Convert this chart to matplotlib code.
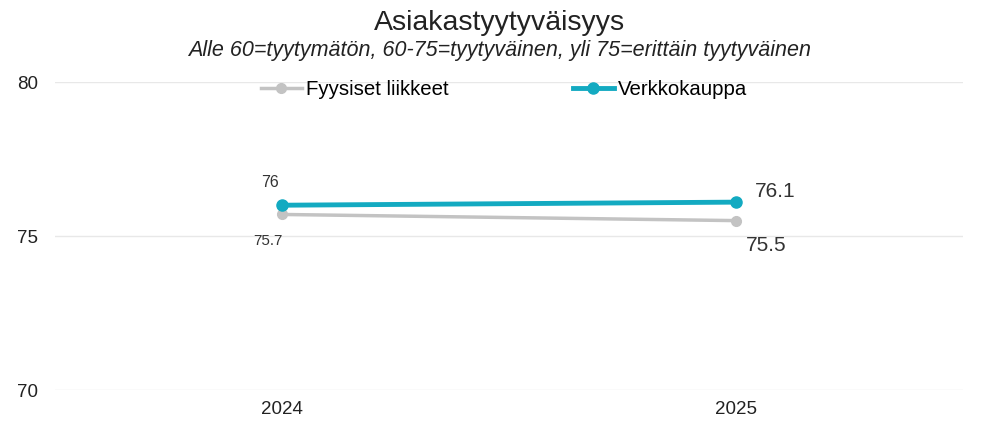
import matplotlib.pyplot as plt

years = ['2024', '2025']
fyysiset = [75.7, 75.5]
verkko = [76.0, 76.1]

plt.rcParams['font.family'] = ['Liberation Sans', 'DejaVu Sans']

fig = plt.figure(figsize=(10, 4.47), dpi=100)
ax = fig.add_axes([0.055, 0.1275, 0.908, 0.689])

x = list(range(len(years)))
gray = '#C3C3C3'
teal = '#13AAC1'
ax.plot(x, fyysiset, color=gray, lw=2.5, marker='o', ms=7, label='Fyysiset liikkeet', zorder=3)
ax.plot(x, verkko, color=teal, lw=3.5, marker='o', ms=8, label='Verkkokauppa', zorder=4)

# value labels
ax.annotate('76', (x[0], verkko[0]), xytext=(-9, 16), textcoords='offset points',
            ha='center', va='center', fontsize=11.5, color='#333333')
ax.annotate('75.7', (x[0], fyysiset[0]), xytext=(-10, -19), textcoords='offset points',
            ha='center', va='center', fontsize=11, color='#333333')
ax.annotate('76.1', (x[1], verkko[1]), xytext=(28, 8), textcoords='offset points',
            ha='center', va='center', fontsize=15, color='#333333')
ax.annotate('75.5', (x[1], fyysiset[1]), xytext=(22, -18), textcoords='offset points',
            ha='center', va='center', fontsize=15, color='#333333')

ax.set_xlim(-0.5, 1.5)
ax.set_ylim(70, 80)
ax.set_yticks([70, 75, 80])
ax.set_xticks(x)
ax.set_xticklabels(years)
ax.tick_params(length=0, labelsize=13.5, colors='#222222')
ax.tick_params(axis='y', pad=12)
ax.tick_params(axis='x', pad=8)
ax.grid(axis='y', color='#E8E8E8', lw=1)
ax.set_axisbelow(True)
for s in ax.spines.values():
    s.set_visible(False)

ax.legend(loc='upper center', bbox_to_anchor=(0.4945, 1.065), ncol=2, frameon=False,
          fontsize=14.7, columnspacing=6.1, handlelength=2.0, handletextpad=0.2)

fig.text(0.5, 0.948, 'Asiakastyytyväisyys', ha='center', va='center', fontsize=20.5, color='#222222')
fig.text(0.5, 0.886, 'Alle 60=tyytymätön, 60-75=tyytyväinen, yli 75=erittäin tyytyväinen',
         ha='center', va='center', fontsize=15.5, style='italic', color='#222222')

fig.savefig('out.png', dpi=100)
